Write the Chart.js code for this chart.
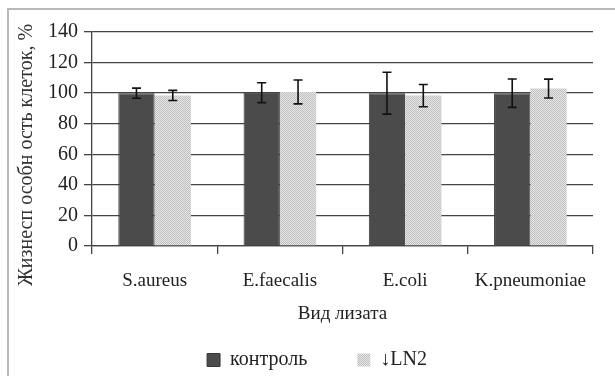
<!DOCTYPE html>
<html>
<head>
<meta charset="utf-8">
<script src="https://cdn.jsdelivr.net/npm/chart.js@4"></script>
<style>
    html, body { margin: 0; padding: 0; background: #fff; }
    #wrap { position: relative; width: 615px; height: 376px; overflow: hidden; }
    #frame { position: absolute; left: 7px; top: 8px; width: 700px; height: 500px;
             border-left: 2px solid #b8b8b8; border-top: 2px solid #b8b8b8; }
    #c { position: absolute; left: 0; top: 0; }
</style>
</head>
<body>
<div id="wrap">
    <div id="frame"></div>
    <canvas id="c" width="615" height="376"></canvas>
</div>
<script>
var categories = ["S.aureus", "E.faecalis", "E.coli", "K.pneumoniae"];
var seriesNames = ["контроль", "↓LN2"];
var kontrol = [100, 100.3, 100, 100];
var kontrolErr = [3.3, 6.5, 13.7, 9.3];
var ln2 = [98.5, 100.8, 98.4, 103];
var ln2Err = [3.3, 7.8, 7.3, 6.2];
var yTicks = [0, 20, 40, 60, 80, 100, 120, 140];
var xTitle = "Вид лизата";
var yTitle = "Жизнесп особн ость клеток, %";

var FONT = "Liberation Serif";

// light dotted fill like the original hatch
function dotPattern() {
    var p = document.createElement("canvas");
    p.width = 2;
    p.height = 2;
    var g = p.getContext("2d");
    g.fillStyle = "#e4e4e4";
    g.fillRect(0, 0, 2, 2);
    g.fillStyle = "#c2c2c2";
    g.fillRect(0, 0, 1, 1);
    g.fillRect(1, 1, 1, 1);
    return g.createPattern(p, "repeat");
}

var errorBars = {
    id: "errorBars",
    afterDatasetsDraw: function (chart) {
        var ctx = chart.ctx;
        var y = chart.scales.y;
        ctx.save();
        ctx.strokeStyle = "#111";
        ctx.lineWidth = 1.6;
        chart.data.datasets.forEach(function (ds, di) {
            var meta = chart.getDatasetMeta(di);
            meta.data.forEach(function (bar, i) {
                var v = ds.data[i], e = ds.errors[i];
                var top = y.getPixelForValue(v + e);
                var bot = y.getPixelForValue(v - e);
                ctx.beginPath();
                ctx.moveTo(bar.x, top);
                ctx.lineTo(bar.x, bot);
                ctx.moveTo(bar.x - 4.5, top);
                ctx.lineTo(bar.x + 4.5, top);
                ctx.moveTo(bar.x - 4.5, bot);
                ctx.lineTo(bar.x + 4.5, bot);
                ctx.stroke();
            });
        });
        ctx.restore();
    }
};

var yAxisTitle = {
    id: "yAxisTitle",
    afterDraw: function (chart) {
        var ctx = chart.ctx;
        var a = chart.chartArea;
        ctx.save();
        ctx.translate(27, (a.top + a.bottom) / 2 + 16);
        ctx.rotate(-Math.PI / 2);
        ctx.font = "20px '" + FONT + "'";
        ctx.fillStyle = "#333";
        ctx.textAlign = "center";
        ctx.textBaseline = "middle";
        ctx.fillText(yTitle, 0, 0);
        ctx.restore();
    }
};

var ctx = document.getElementById("c").getContext("2d");
var chart = new Chart(ctx, {
    type: "bar",
    data: {
        labels: categories,
        datasets: [
            {
                label: seriesNames[0],
                data: kontrol,
                errors: kontrolErr,
                backgroundColor: "#4b4b4b",
                borderColor: "#3a3a3a",
                borderWidth: 1,
                categoryPercentage: 0.58,
                barPercentage: 1.0
            },
            {
                label: seriesNames[1],
                data: ln2,
                errors: ln2Err,
                backgroundColor: dotPattern(),
                borderWidth: 0,
                categoryPercentage: 0.58,
                barPercentage: 1.0
            }
        ]
    },
    options: {
        responsive: false,
        animation: false,
        devicePixelRatio: 1,
        layout: { padding: { left: 19, right: 0, top: 32, bottom: -4 } },
        plugins: {
            tooltip: { enabled: false },
            legend: {
                position: "bottom",
                labels: {
                    boxWidth: 13,
                    boxHeight: 13,
                    padding: 50,
                    color: "#222",
                    font: { family: FONT, size: 20 }
                }
            }
        },
        scales: {
            x: {
                grid: { display: true, drawOnChartArea: false, offset: true, color: "#444", tickLength: 8, lineWidth: 1.3 },
                border: { display: true, color: "#444", width: 1.3 },
                ticks: { color: "#222", padding: 16, font: { family: FONT, size: 19 } },
                title: { display: true, text: xTitle, color: "#222", padding: { top: 0, bottom: -25 }, font: { family: FONT, size: 19 } },
                afterFit: function (s) { s.height = 54; }
            },
            y: {
                min: 0,
                max: 140,
                afterBuildTicks: function (s) { s.ticks = yTicks.map(function (v) { return { value: v }; }); },
                grid: { color: "#444", lineWidth: 1.3, tickLength: 8 },
                border: { display: true, color: "#444", width: 1.3 },
                ticks: { color: "#222", padding: 6, font: { family: FONT, size: 20 } },
                afterFit: function (s) { s.width = 73; }
            },
            // empty spacer on the right so the plot ends where the original does
            spacer: {
                type: "linear",
                position: "right",
                grid: { display: false },
                border: { display: false },
                ticks: { display: false },
                afterFit: function (s) { s.width = 22; }
            }
        }
    },
    plugins: [errorBars, yAxisTitle]
});
</script>
</body>
</html>
